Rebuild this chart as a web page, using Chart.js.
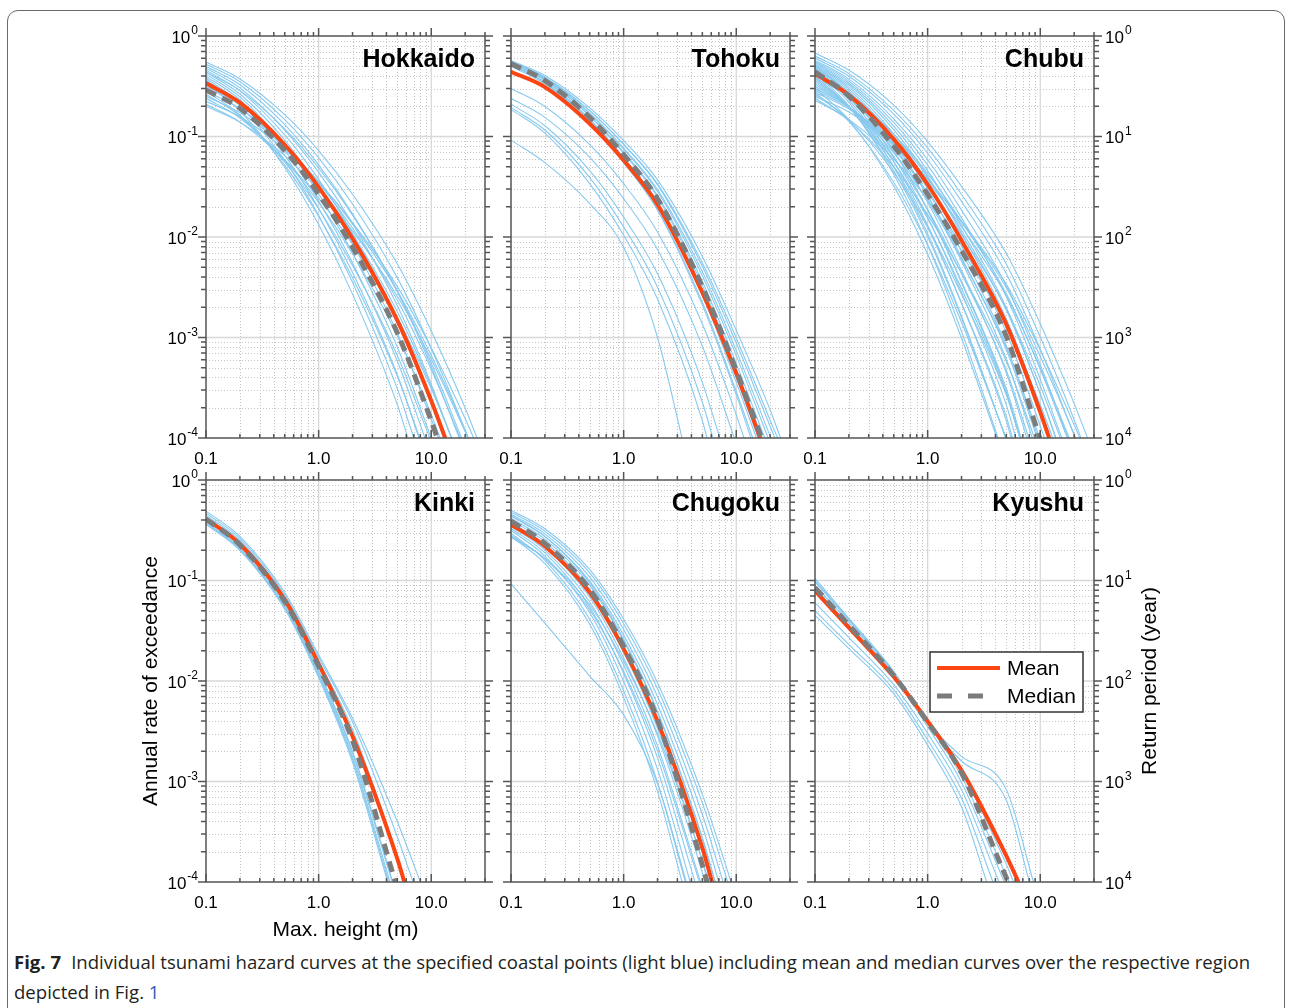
<!DOCTYPE html>
<html lang="en">
<head>
<meta charset="utf-8">
<title>Tsunami hazard curves</title>
<script src="https://cdn.jsdelivr.net/npm/chart.js@4.4.1/dist/chart.umd.min.js"></script>
<style>
  html, body { margin: 0; background: #fff; }
  body { position: relative; width: 1290px; height: 1008px; overflow: hidden; }
  .frame { position: absolute; left: 7px; top: 10px; width: 1278px; height: 1012px; box-sizing: border-box;
           border: 1.5px solid #6a6a6a; border-radius: 11px; }
  canvas.panel { position: absolute; }
  .caption { position: absolute; left: 14px; white-space: nowrap; font-family: "Open Sans", "Noto Sans", sans-serif;
             font-size: 17.5px; line-height: 24px; color: #231f20; transform-origin: 0 50%; }
  .caption b { font-weight: 700; margin-right: 5px; }
  .caption .ref { color: #2c5bb5; }
</style>
</head>
<body>
<div class="frame"></div>
<div class="caption" id="cap1" style="top: 950px"><b>Fig. 7</b> Individual tsunami hazard curves at the specified coastal points (light blue) including mean and median curves over the respective region</div>
<div class="caption" id="cap2" style="top: 980px">depicted in Fig. <span class="ref">1</span></div>
<script>
// heights (m) at which every hazard curve is sampled
const heightGrid = [0.1, 0.2, 0.5, 1, 2, 5, 10, 20];
// lower edge of the rate axis, each curve ends where it reaches it
const RATE_MIN = 1e-4;
const xTickValues = [0.1, 1, 10];
const rateExponents = ['0', '-1', '-2', '-3', '-4'];
const returnExponents = ['0', '1', '2', '3', '4'];

// Hokkaido
const hokkaidoMean = [0.34, 0.217, 0.0828, 0.0314, 9.66e-3, 1.48e-3, 2.35e-4];
const hokkaidoMeanEnd = 13.3;
const hokkaidoMedian = [0.29, 0.191, 0.0729, 0.0267, 7.94e-3, 1.11e-3, 1.48e-4];
const hokkaidoMedianEnd = 11.3;
const hokkaidoPoints = [
  [0.55, 0.374, 0.165, 0.0724, 0.0266, 5.38e-3, 1.16e-3, 1.99e-4],
  [0.525, 0.35, 0.147, 0.0614, 0.0213, 3.92e-3, 7.74e-4, 1.19e-4],
  [0.50, 0.327, 0.131, 0.0521, 0.017, 2.85e-3, 5.14e-4],
  [0.479, 0.305, 0.116, 0.0442, 0.0136, 2.07e-3, 3.42e-4],
  [0.457, 0.284, 0.104, 0.0374, 0.0109, 1.51e-3, 2.28e-4],
  [0.437, 0.265, 0.0923, 0.0317, 8.67e-3, 1.1e-3],
  [0.417, 0.248, 0.082, 0.0269, 6.93e-3, 8.0e-4],
  [0.398, 0.232, 0.0729, 0.0228, 5.55e-3, 5.8e-4],
  [0.38, 0.216, 0.0649, 0.0193, 4.43e-3, 4.23e-4],
  [0.363, 0.202, 0.0578, 0.0164, 3.54e-3, 3.08e-4],
  [0.331, 0.18, 0.0491, 0.0133, 2.7e-3, 2.14e-4],
  [0.316, 0.206, 0.0826, 0.0329, 0.0107, 1.8e-3, 3.24e-4],
  [0.282, 0.19, 0.0813, 0.0346, 0.0123, 2.35e-3, 4.81e-4],
  [0.251, 0.173, 0.0789, 0.0356, 0.0135, 2.9e-3, 6.61e-4, 1.2e-4],
  [0.224, 0.157, 0.0743, 0.0349, 0.0139, 3.21e-3, 7.87e-4, 1.56e-4],
  [0.20, 0.139, 0.0644, 0.0296, 0.0115, 2.57e-3, 6.07e-4, 1.15e-4],
  [0.209, 0.139, 0.0585, 0.0244, 8.47e-3, 1.56e-3, 3.08e-4],
  [0.24, 0.153, 0.0583, 0.0221, 6.81e-3, 1.04e-3, 1.71e-4],
  [0.263, 0.16, 0.0556, 0.0191, 5.22e-3, 6.62e-4],
  [0.282, 0.164, 0.0516, 0.0161, 3.93e-3, 4.11e-4],
  [0.437, 0.288, 0.119, 0.0488, 0.0165, 2.92e-3, 5.57e-4],
  [0.355, 0.224, 0.0839, 0.0312, 9.38e-3, 1.38e-3, 2.19e-4]
];
const hokkaidoPointEnds = [25.5, 21.2, 17.7, 15.1, 13.0, 11.6, 10.0, 8.8, 7.8, 7.0, 6.2, 15.1, 18.1, 21.4, 23.8, 21.1, 15.2, 12.0, 9.7, 7.9, 18.6, 12.9];

// Tohoku
const tohokuMean = [0.44, 0.31, 0.134, 0.058, 0.021, 2.8e-3, 4.4e-4];
const tohokuMeanEnd = 16.3;
const tohokuMedian = [0.53, 0.36, 0.155, 0.066, 0.024, 3.2e-3, 4.7e-4];
const tohokuMedianEnd = 16.8;
const tohokuPoints = [
  [0.57, 0.405, 0.193, 0.091, 0.037, 6.4e-3, 1.18e-3, 1.9e-4],
  [0.55, 0.387, 0.181, 0.084, 0.0338, 5.5e-3, 9.9e-4, 1.5e-4],
  [0.56, 0.39, 0.181, 0.083, 0.033, 5.1e-3, 8.8e-4],
  [0.543, 0.378, 0.171, 0.0767, 0.0296, 4.5e-3, 7.4e-4],
  [0.556, 0.383, 0.170, 0.075, 0.0284, 4.1e-3, 6.6e-4],
  [0.537, 0.367, 0.161, 0.0697, 0.0259, 3.6e-3, 5.5e-4],
  [0.55, 0.372, 0.160, 0.068, 0.0249, 3.3e-3, 4.9e-4],
  [0.513, 0.345, 0.146, 0.0612, 0.0218, 2.8e-3, 4.0e-4],
  [0.537, 0.359, 0.149, 0.0615, 0.0215, 2.66e-3, 3.6e-4],
  [0.50, 0.332, 0.136, 0.055, 0.0188, 2.24e-3, 2.9e-4],
  [0.525, 0.345, 0.139, 0.0552, 0.0185, 2.1e-3, 2.7e-4],
  [0.30, 0.199, 0.083, 0.034, 0.0112, 1.36e-3, 1.7e-4],
  [0.24, 0.155, 0.062, 0.0241, 7.5e-3, 8.2e-4],
  [0.21, 0.128, 0.0458, 0.0158, 4.3e-3, 3.56e-4],
  [0.195, 0.116, 0.039, 0.0126, 3.16e-3, 2.27e-4],
  [0.186, 0.108, 0.034, 0.0104, 2.4e-3, 1.49e-4],
  [0.092, 0.055, 0.0215, 7.9e-3, 1.0e-3]
];
const tohokuPointEnds = [24.7, 23.3, 22, 20.3, 19.2, 17.9, 17, 15.7, 15.1, 14, 13.5, 11.7, 9.6, 7.15, 6.2, 5.5, 3.3];

// Chubu
const chubuMean = [0.42, 0.258, 0.0942, 0.0333, 9.25e-3, 1.35e-3, 1.81e-4];
const chubuMeanEnd = 12.0;
const chubuMedian = [0.44, 0.252, 0.0804, 0.0265, 7.35e-3, 1.02e-3];
const chubuMedianEnd = 9.9;
const chubuPoints = [
  [0.676, 0.458, 0.205, 0.0889, 0.0319, 6.84e-3, 1.37e-3, 2.2e-4],
  [0.631, 0.422, 0.182, 0.0769, 0.0265, 5.37e-3, 1.01e-3, 1.52e-4],
  [0.603, 0.397, 0.167, 0.0681, 0.0226, 4.32e-3, 7.66e-4, 1.07e-4],
  [0.575, 0.372, 0.15, 0.0587, 0.0185, 3.27e-3, 5.37e-4],
  [0.562, 0.356, 0.138, 0.0519, 0.0155, 2.55e-3, 3.85e-4],
  [0.55, 0.341, 0.127, 0.0458, 0.013, 1.98e-3, 2.75e-4],
  [0.537, 0.327, 0.117, 0.0405, 0.0109, 1.53e-3, 1.98e-4],
  [0.525, 0.312, 0.106, 0.0348, 8.83e-3, 1.12e-3],
  [0.513, 0.298, 0.0962, 0.030, 7.13e-3, 8.26e-4],
  [0.501, 0.284, 0.0873, 0.0258, 5.75e-3, 6.05e-4],
  [0.49, 0.271, 0.0791, 0.0222, 4.65e-3, 4.44e-4],
  [0.479, 0.257, 0.0706, 0.0187, 3.61e-3, 3.08e-4],
  [0.468, 0.244, 0.0631, 0.0157, 2.81e-3, 2.13e-4],
  [0.457, 0.232, 0.0564, 0.0131, 2.18e-3, 1.48e-4],
  [0.447, 0.219, 0.0497, 0.0108, 1.63e-3],
  [0.427, 0.201, 0.0421, 8.38e-3, 1.15e-3],
  [0.398, 0.197, 0.0456, 0.0101, 1.57e-3],
  [0.38, 0.197, 0.0506, 0.0124, 2.2e-3, 1.63e-4],
  [0.363, 0.198, 0.0561, 0.0153, 3.07e-3, 2.77e-4],
  [0.347, 0.198, 0.0622, 0.0188, 4.3e-3, 4.7e-4],
  [0.331, 0.199, 0.069, 0.0231, 6.01e-3, 7.96e-4],
  [0.316, 0.198, 0.0753, 0.0277, 8.09e-3, 1.28e-3, 1.85e-4],
  [0.302, 0.197, 0.0811, 0.0324, 0.0105, 1.93e-3, 3.29e-4],
  [0.288, 0.194, 0.0847, 0.0361, 0.0126, 2.6e-3, 5.0e-4],
  [0.275, 0.188, 0.0859, 0.0381, 0.014, 3.13e-3, 6.52e-4, 1.09e-4],
  [0.251, 0.175, 0.0818, 0.0375, 0.0143, 3.38e-3, 7.5e-4, 1.35e-4],
  [0.229, 0.148, 0.0597, 0.0234, 7.38e-3, 1.3e-3, 2.14e-4],
  [0.24, 0.144, 0.050, 0.0167, 4.36e-3, 5.77e-4],
  [0.263, 0.147, 0.0438, 0.0126, 2.69e-3, 2.67e-4],
  [0.275, 0.141, 0.035, 8.34e-3, 1.42e-3],
  [0.302, 0.146, 0.0321, 6.73e-3, 9.84e-4],
  [0.501, 0.267, 0.0718, 0.0186, 3.51e-3, 2.87e-4],
  [0.417, 0.244, 0.0805, 0.0256, 6.25e-3, 7.53e-4],
  [0.437, 0.275, 0.105, 0.0393, 0.0116, 1.87e-3, 2.76e-4],
  [0.38, 0.251, 0.105, 0.043, 0.0143, 2.72e-3, 4.83e-4]
];
const chubuPointEnds = [26.3, 23.0, 20.5, 17.6, 15.5, 13.7, 12.2, 10.9, 9.6, 8.5, 7.6, 6.77, 6.07, 5.5, 4.94, 4.22,
  4.93, 5.66, 6.62, 7.9, 9.9, 12.2, 15.1, 18.1, 20.6, 22.4, 12.9, 8.9, 6.6, 4.98, 4.13, 6.6, 9.4, 13.8, 17.4];

// Kinki
const kinkiMean = [0.41, 0.231, 0.0646, 0.0148, 2.82e-3, 1.7e-4];
const kinkiMeanEnd = 5.77;
const kinkiMedian = [0.41, 0.226, 0.062, 0.014, 2.55e-3];
const kinkiMedianEnd = 4.8;
const kinkiPoints = [
  [0.49, 0.275, 0.0759, 0.0182, 4.27e-3, 3.98e-4],
  [0.468, 0.263, 0.072, 0.0172, 3.9e-3, 2.8e-4],
  [0.447, 0.25, 0.0676, 0.0158, 3.3e-3, 1.8e-4],
  [0.398, 0.219, 0.0589, 0.0123, 1.9e-3],
  [0.38, 0.21, 0.056, 0.0117, 1.75e-3],
  [0.372, 0.204, 0.054, 0.0112, 1.65e-3],
  [0.363, 0.20, 0.052, 0.0108, 1.55e-3],
  [0.417, 0.228, 0.061, 0.0127, 2.0e-3]
];
const kinkiPointEnds = [8.0, 6.9, 5.9, 4.5, 4.3, 4.2, 4.1, 4.55];

// Chugoku
const chugokuMean = [0.36, 0.219, 0.0759, 0.0209, 3.98e-3, 2.19e-4];
const chugokuMeanEnd = 6.1;
const chugokuMedian = [0.39, 0.234, 0.0813, 0.0221, 4.12e-3, 1.48e-4];
const chugokuMedianEnd = 5.5;
const chugokuPoints = [
  [0.50, 0.327, 0.128, 0.0412, 9.6e-3, 7.45e-4],
  [0.479, 0.309, 0.119, 0.0372, 8.38e-3, 6.12e-4],
  [0.457, 0.291, 0.108, 0.0326, 7.0e-3, 4.69e-4],
  [0.437, 0.274, 0.0986, 0.0286, 5.83e-3, 3.59e-4],
  [0.417, 0.258, 0.090, 0.0251, 4.88e-3, 2.74e-4],
  [0.398, 0.243, 0.082, 0.022, 4.06e-3, 2.1e-4],
  [0.38, 0.228, 0.0746, 0.0193, 3.39e-3, 1.6e-4],
  [0.363, 0.215, 0.0681, 0.0169, 2.83e-3, 1.23e-4],
  [0.347, 0.201, 0.0611, 0.0144, 2.26e-3],
  [0.331, 0.188, 0.0541, 0.0119, 1.72e-3],
  [0.316, 0.175, 0.0478, 9.9e-3, 1.32e-3],
  [0.295, 0.159, 0.0412, 8.0e-3, 9.8e-4],
  [0.275, 0.147, 0.0367, 6.87e-3, 7.98e-4],
  [0.282, 0.165, 0.0513, 0.0124, 2.01e-3],
  [0.269, 0.166, 0.0571, 0.0157, 3.0e-3, 1.64e-4],
  [0.093, 0.0377, 0.0112, 4.6e-3, 9.5e-4],
  [0.447, 0.275, 0.0948, 0.0261, 4.99e-3, 2.73e-4]
];
const chugokuPointEnds = [9.0, 8.4, 7.65, 7.0, 6.5, 6.0, 5.6, 5.25, 4.82, 4.3, 3.9, 3.53, 3.3, 4.7, 5.7, 3.6, 6.5];

// Kyushu
const kyushuMean = [0.079, 0.034, 0.011, 3.98e-3, 1.29e-3, 1.82e-4];
const kyushuMeanEnd = 6.4;
const kyushuMedian = [0.085, 0.036, 0.0113, 3.9e-3, 1.22e-3, 1.1e-4];
const kyushuMedianEnd = 5.2;
const kyushuPoints = [
  [0.105, 0.042, 0.0125, 3.9e-3, 1.78e-3, 8.3e-4],
  [0.097, 0.040, 0.012, 3.7e-3, 1.6e-3, 6.5e-4],
  [0.10, 0.041, 0.0122, 4.0e-3, 1.25e-3, 1.5e-4],
  [0.09, 0.038, 0.0116, 3.8e-3, 1.12e-3, 1.15e-4],
  [0.085, 0.036, 0.011, 3.5e-3, 9.8e-4],
  [0.060, 0.027, 0.0092, 3.0e-3, 8.3e-4],
  [0.050, 0.023, 0.0082, 2.6e-3, 6.8e-4],
  [0.045, 0.021, 0.0075, 2.3e-3, 5.6e-4]
];
const kyushuPointEnds = [8.7, 8.0, 5.8, 5.3, 4.8, 4.3, 3.8, 3.35];

const FONT = '"Liberation Sans", Arial, Helvetica, sans-serif';
const POINT_COLOR = '#88c9ee';
const MEAN_COLOR = '#fb4614';
const MEDIAN_COLOR = '#7c7c7c';
const AXIS_COLOR = '#555';

Chart.defaults.font.family = FONT;
Chart.defaults.color = '#000';

// space around each plot box inside its canvas
const M = { left: 75, right: 75, top: 20, bottom: 70 };
const PLOT_W = 279, PLOT_H = 402;

const panels = [
  { title: 'Hokkaido', left: 206, top: 36, mean: hokkaidoMean, meanEnd: hokkaidoMeanEnd, median: hokkaidoMedian, medianEnd: hokkaidoMedianEnd, points: hokkaidoPoints, ends: hokkaidoPointEnds, rateLabels: true },
  { title: 'Tohoku', left: 511, top: 36, mean: tohokuMean, meanEnd: tohokuMeanEnd, median: tohokuMedian, medianEnd: tohokuMedianEnd, points: tohokuPoints, ends: tohokuPointEnds },
  { title: 'Chubu', left: 815, top: 36, mean: chubuMean, meanEnd: chubuMeanEnd, median: chubuMedian, medianEnd: chubuMedianEnd, points: chubuPoints, ends: chubuPointEnds, returnLabels: true },
  { title: 'Kinki', left: 206, top: 480, mean: kinkiMean, meanEnd: kinkiMeanEnd, median: kinkiMedian, medianEnd: kinkiMedianEnd, points: kinkiPoints, ends: kinkiPointEnds, rateLabels: true, axisTitles: true },
  { title: 'Chugoku', left: 511, top: 480, mean: chugokuMean, meanEnd: chugokuMeanEnd, median: chugokuMedian, medianEnd: chugokuMedianEnd, points: chugokuPoints, ends: chugokuPointEnds },
  { title: 'Kyushu', left: 815, top: 480, mean: kyushuMean, meanEnd: kyushuMeanEnd, median: kyushuMedian, medianEnd: kyushuMedianEnd, points: kyushuPoints, ends: kyushuPointEnds, returnLabels: true, returnTitle: true, legend: true }
];

function toPoints(rates, end) {
  const pts = rates.map((r, i) => ({ x: heightGrid[i], y: r }));
  pts.push({ x: end, y: RATE_MIN });
  return pts;
}

// minor positions 2..9 of each decade
function minors(lo, hi) {
  const out = [];
  for (let d = lo; d < hi; d++) for (let m = 2; m <= 9; m++) out.push(m * Math.pow(10, d));
  return out;
}
const X_MINOR = minors(-1, 2).filter(v => v <= 30);
const Y_MINOR = minors(-4, 0);
const Y_MAJOR = [1, 1e-1, 1e-2, 1e-3, 1e-4];

function seg(ctx, x1, y1, x2, y2) { ctx.moveTo(x1, y1); ctx.lineTo(x2, y2); }

function drawPower(ctx, x, y, exp, align) {
  ctx.font = '17px ' + FONT;
  const wb = ctx.measureText('10').width;
  ctx.font = '12px ' + FONT;
  const we = ctx.measureText(exp).width;
  const x0 = align === 'right' ? x - wb - we - 1 : x;
  ctx.textAlign = 'left';
  ctx.textBaseline = 'middle';
  ctx.font = '17px ' + FONT;
  ctx.fillText('10', x0, y + 2);
  ctx.font = '12px ' + FONT;
  ctx.fillText(exp, x0 + wb + 1, y - 5);
}

const decor = {
  id: 'decor',
  beforeDatasetsDraw(chart) {
    const { ctx, chartArea: a } = chart;
    const xs = chart.scales.x, ys = chart.scales.y;
    ctx.save();
    // dotted minor grid
    ctx.lineWidth = 1;
    ctx.strokeStyle = '#c4c4c4';
    ctx.setLineDash([1, 2]);
    ctx.beginPath();
    X_MINOR.filter(v => v < 30).forEach(v => {
      const p = Math.round(xs.getPixelForValue(v)) + 0.5;
      seg(ctx, p, a.top, p, a.bottom);
    });
    Y_MINOR.forEach(v => {
      const p = Math.round(ys.getPixelForValue(v)) + 0.5;
      seg(ctx, a.left, p, a.right, p);
    });
    ctx.stroke();
    // solid decade grid
    ctx.setLineDash([]);
    ctx.strokeStyle = '#d8d8d8';
    ctx.lineWidth = 1.3;
    ctx.beginPath();
    [1, 10].forEach(v => {
      const p = xs.getPixelForValue(v);
      seg(ctx, p, a.top, p, a.bottom);
    });
    [1e-1, 1e-2, 1e-3].forEach(v => {
      const p = ys.getPixelForValue(v);
      seg(ctx, a.left, p, a.right, p);
    });
    ctx.stroke();
    ctx.restore();
  },
  afterDatasetsDraw(chart, args, o) {
    const { ctx, chartArea: a } = chart;
    const xs = chart.scales.x, ys = chart.scales.y;
    ctx.save();
    ctx.strokeStyle = AXIS_COLOR;
    ctx.lineWidth = 1.5;
    ctx.strokeRect(a.left, a.top, a.right - a.left, a.bottom - a.top);

    // tick marks
    ctx.beginPath();
    const xt = xTickValues.map(v => [v, 8]).concat(X_MINOR.map(v => [v, 4]));
    xt.forEach(([v, len]) => {
      const p = xs.getPixelForValue(v);
      seg(ctx, p, a.top, p, a.top - len);
      seg(ctx, p, a.bottom, p, a.bottom - len);
    });
    const yt = Y_MAJOR.map(v => [v, 8]).concat(Y_MINOR.map(v => [v, 5]));
    yt.forEach(([v, len]) => {
      const p = ys.getPixelForValue(v);
      seg(ctx, a.left, p, a.left - len, p);
      seg(ctx, a.right, p, a.right + len, p);
    });
    ctx.stroke();

    ctx.fillStyle = '#000';
    if (o.rateLabels) {
      Y_MAJOR.forEach((v, i) => drawPower(ctx, a.left - 8, ys.getPixelForValue(v), rateExponents[i], 'right'));
    }
    if (o.returnLabels) {
      const rs = chart.scales.ret;
      returnExponents.forEach(e => drawPower(ctx, a.right + 11, rs.getPixelForValue(Math.pow(10, +e)), e, 'left'));
    }
    if (o.returnTitle) {
      ctx.save();
      ctx.translate(a.right + 56, (a.top + a.bottom) / 2);
      ctx.rotate(-Math.PI / 2);
      ctx.font = '21px ' + FONT;
      ctx.textAlign = 'center';
      ctx.textBaseline = 'middle';
      ctx.fillText('Return period (year)', 0, 0);
      ctx.restore();
    }

    // region name
    ctx.font = 'bold 25px ' + FONT;
    ctx.textAlign = 'right';
    ctx.textBaseline = 'alphabetic';
    ctx.fillText(o.title, a.right - 10, a.top + 31);

    if (o.legend) {
      const ds = chart.data.datasets;
      const bx = a.left + 115, by = a.top + 172, bw = 153, bh = 60;
      ctx.fillStyle = '#fff';
      ctx.fillRect(bx, by, bw, bh);
      ctx.strokeStyle = '#333';
      ctx.lineWidth = 1.5;
      ctx.strokeRect(bx, by, bw, bh);
      ctx.beginPath();
      ctx.strokeStyle = MEAN_COLOR;
      ctx.lineWidth = 4;
      seg(ctx, bx + 7, by + 16, bx + 70, by + 16);
      ctx.stroke();
      ctx.beginPath();
      ctx.strokeStyle = MEDIAN_COLOR;
      ctx.lineWidth = 5;
      ctx.setLineDash([15, 16]);
      seg(ctx, bx + 7, by + 44, bx + 53, by + 44);
      ctx.stroke();
      ctx.setLineDash([]);
      ctx.fillStyle = '#000';
      ctx.font = '21px ' + FONT;
      ctx.textAlign = 'left';
      ctx.textBaseline = 'middle';
      ctx.fillText(ds[1].label, bx + 77, by + 17);
      ctx.fillText(ds[0].label, bx + 77, by + 45);
    }
    ctx.restore();
  }
};

panels.forEach(p => {
  const canvas = document.createElement('canvas');
  canvas.className = 'panel';
  canvas.width = PLOT_W + M.left + M.right;
  canvas.height = PLOT_H + M.top + M.bottom;
  canvas.style.left = (p.left - M.left) + 'px';
  canvas.style.top = (p.top - M.top) + 'px';
  document.body.appendChild(canvas);

  const datasets = [
    { label: 'Median', data: toPoints(p.median, p.medianEnd), borderColor: MEDIAN_COLOR, borderWidth: 5, borderDash: [11, 7] },
    { label: 'Mean', data: toPoints(p.mean, p.meanEnd), borderColor: MEAN_COLOR, borderWidth: 4 }
  ].concat(p.points.map((r, i) => ({
    label: 'point ' + (i + 1), data: toPoints(r, p.ends[i]), borderColor: POINT_COLOR, borderWidth: 1.1
  })));

  new Chart(canvas, {
    type: 'line',
    data: { datasets },
    options: {
      responsive: false,
      animation: false,
      events: [],
      layout: { padding: { left: 0, top: M.top, right: M.right, bottom: 0 } },
      elements: {
        point: { radius: 0 },
        line: { cubicInterpolationMode: 'monotone', fill: false }
      },
      plugins: {
        legend: { display: false },
        tooltip: { enabled: false },
        decor: { title: p.title, rateLabels: !!p.rateLabels, returnLabels: !!p.returnLabels, returnTitle: !!p.returnTitle, legend: !!p.legend }
      },
      scales: {
        x: {
          type: 'logarithmic', min: 0.1, max: 30,
          grid: { display: false, drawTicks: false },
          border: { display: false },
          afterBuildTicks: s => { s.ticks = xTickValues.map(v => ({ value: v })); },
          afterFit: s => { s.height = M.bottom; },
          ticks: { autoSkip: false, maxRotation: 0, padding: 11, color: '#000', font: { size: 17 },
                   callback: v => Number(v).toFixed(1) },
          title: { display: !!p.axisTitles, text: 'Max. height (m)', color: '#000', font: { size: 21 },
                   padding: { top: 0, bottom: 9 } }
        },
        y: {
          type: 'logarithmic', min: RATE_MIN, max: 1,
          grid: { display: false, drawTicks: false },
          border: { display: false },
          ticks: { display: false },
          afterFit: s => { s.width = M.left; },
          title: { display: !!p.axisTitles, text: 'Annual rate of exceedance', color: '#000', font: { size: 21 },
                   padding: { top: 8, bottom: 0 } }
        },
        // return period = 1 / annual rate, same positions as the rate axis
        ret: { type: 'logarithmic', position: 'right', reverse: true, min: 1, max: 1 / RATE_MIN, display: false }
      }
    },
    plugins: [decor]
  });
});

// fit the caption lines to the figure width
const cap1 = document.getElementById('cap1');
const cap2 = document.getElementById('cap2');
const k = 1236 / cap1.getBoundingClientRect().width;
[cap1, cap2].forEach(c => { c.style.transform = 'scaleX(' + k.toFixed(4) + ')'; });
</script>
</body>
</html>
